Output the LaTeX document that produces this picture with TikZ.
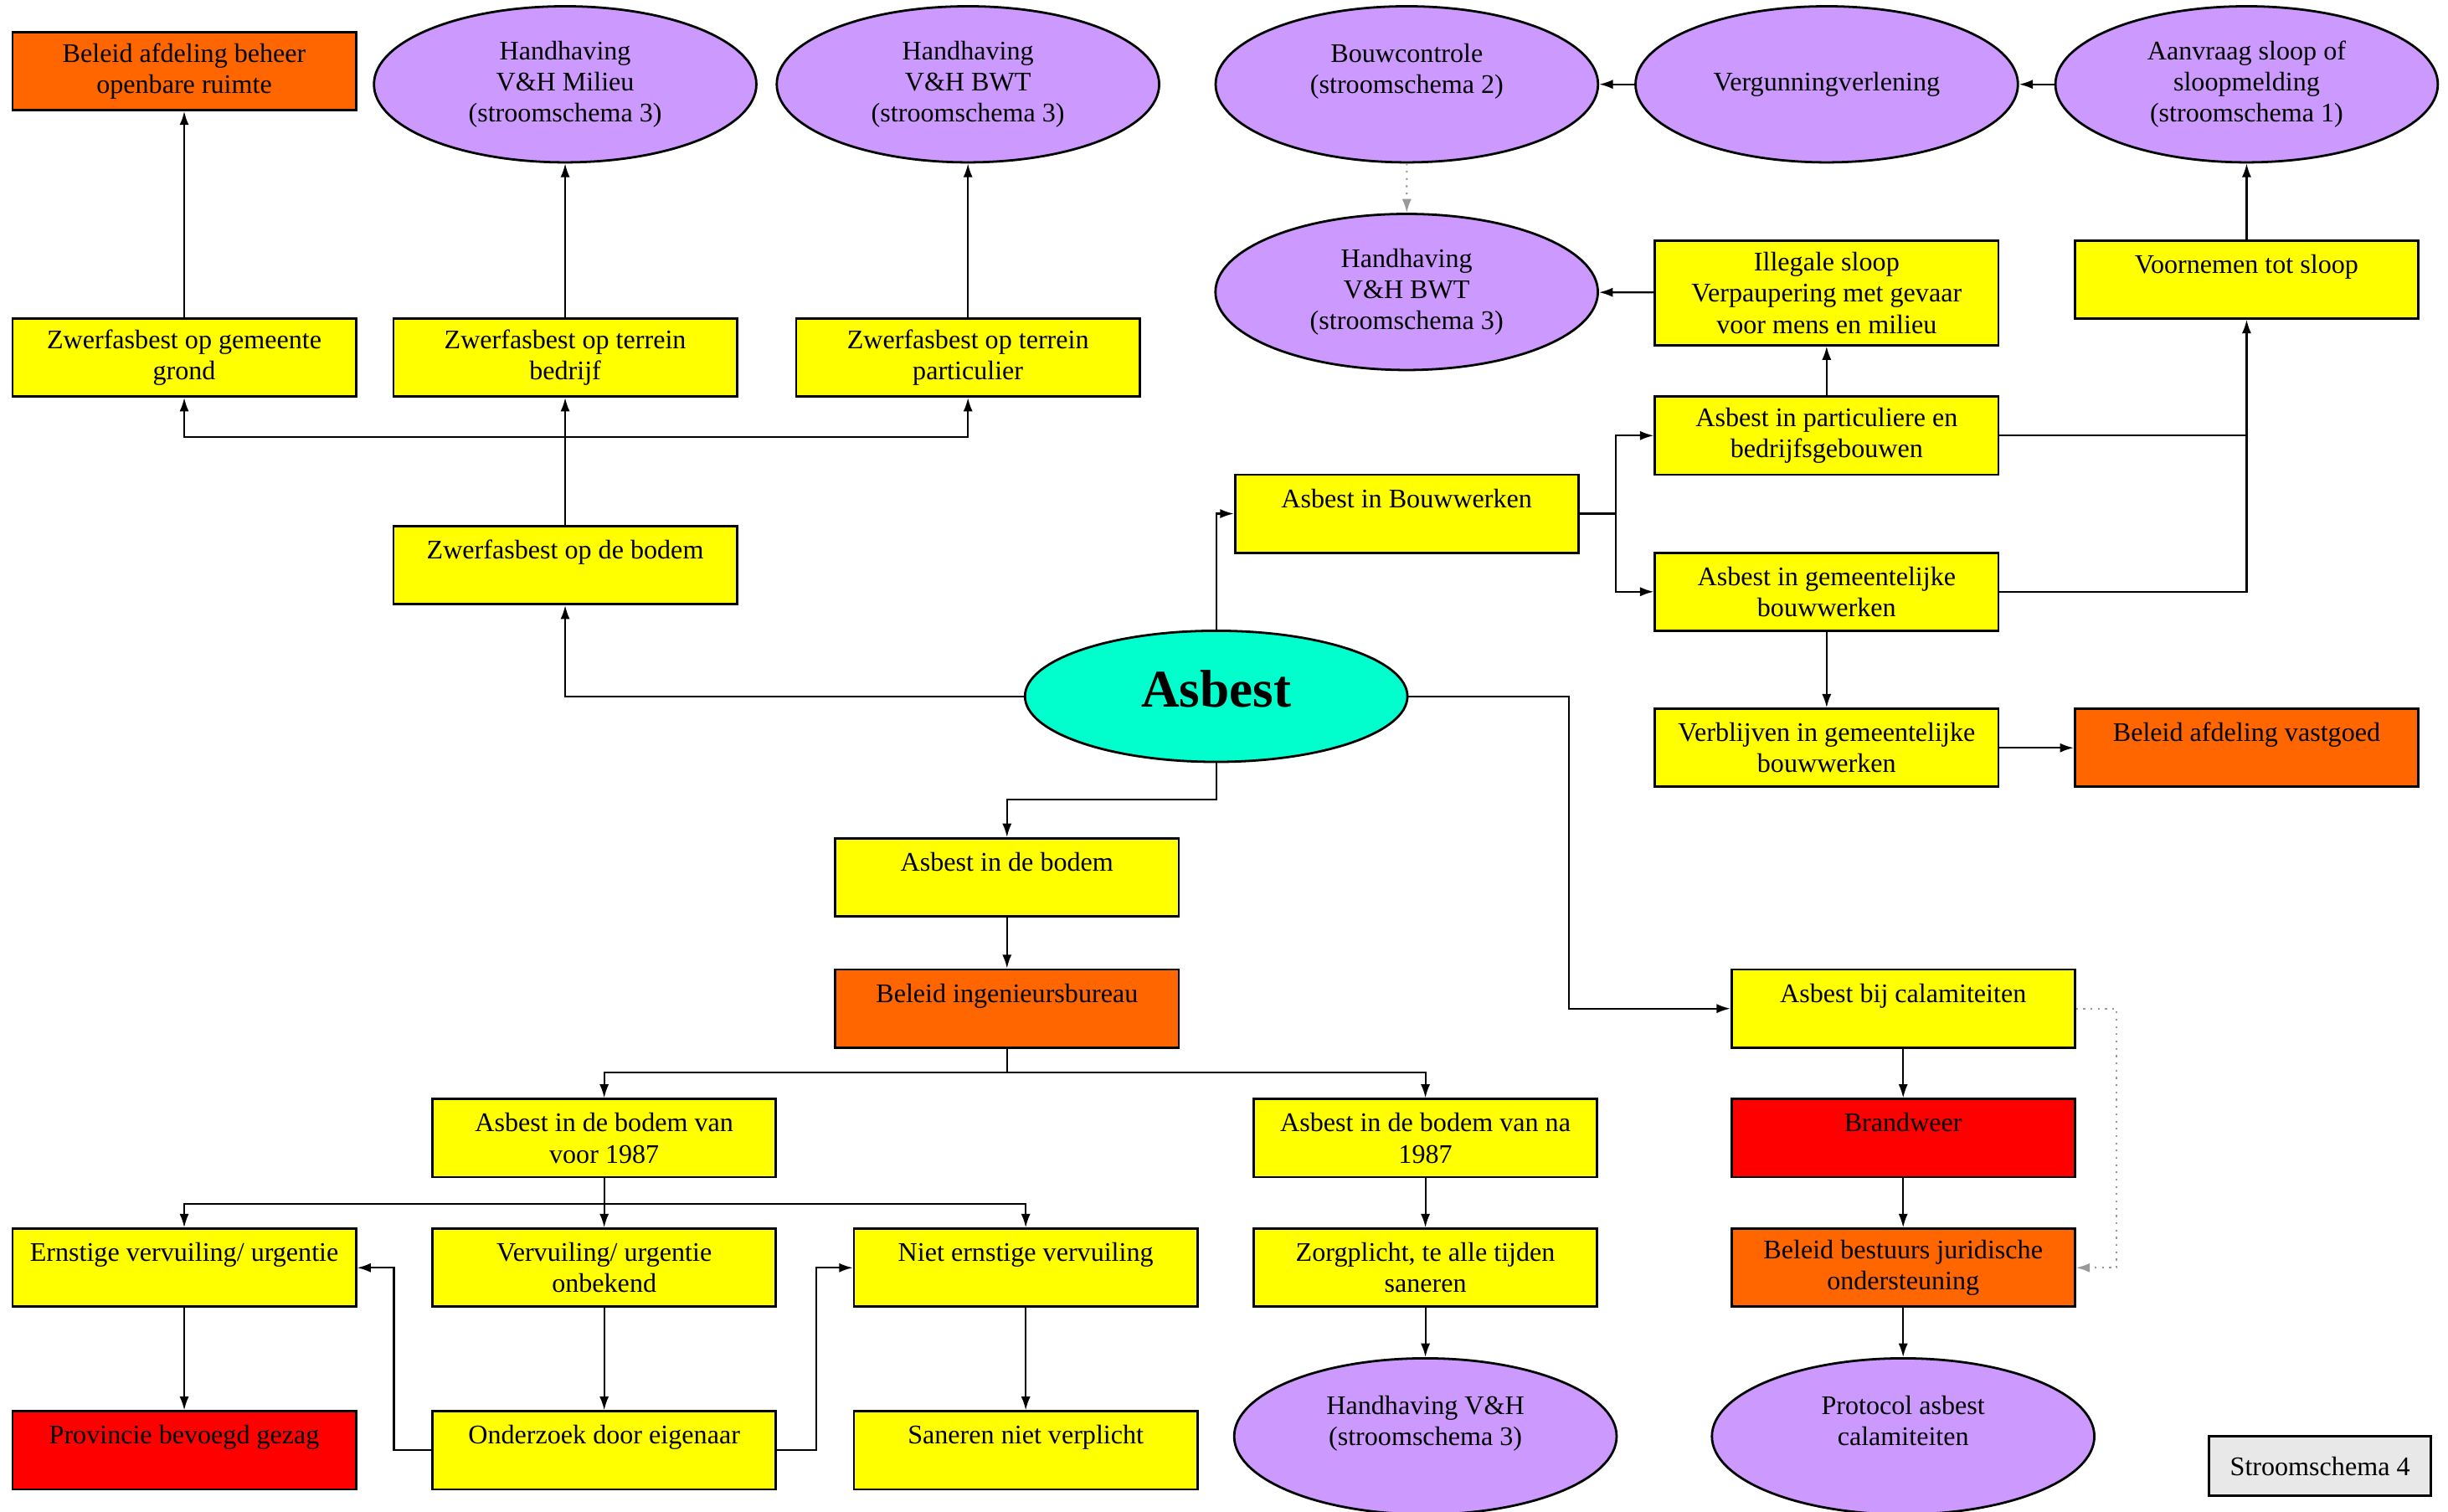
\documentclass[tikz,border=0pt]{standalone}
\usepackage{fontspec}
\setmainfont{Liberation Serif}
\usepackage{tikz}
\usetikzlibrary{positioning, arrows.meta, shapes.geometric}
\definecolor{geel}{HTML}{FFFF00}
\definecolor{oranje}{HTML}{FF6600}
\definecolor{rood}{HTML}{FF0000}
\definecolor{paars}{HTML}{CC99FF}
\definecolor{turkoois}{HTML}{00FFCC}
\definecolor{grijs}{HTML}{999999}
\definecolor{lichtgrijs}{HTML}{E8E8E8}
\tikzset{
    blok/.style={
           rectangle,
           draw=black, line width=0.85pt,
           minimum width=4.4cm,
           minimum height=1cm,
           inner sep=2pt,
           align=center,
           font=\fontsize{9.8}{11.4}\selectfont,
           },
    geelblok/.style={blok, fill=geel},
    oranjeblok/.style={blok, fill=oranje},
    roodblok/.style={blok, fill=rood},
    ovaal/.style={
           ellipse,
           draw=black, line width=0.85pt,
           fill=paars,
           minimum width=4.9cm,
           minimum height=2cm,
           inner sep=0pt,
           align=center,
           font=\fontsize{9.8}{11.4}\selectfont,
           },
    pijl/.style={->, line width=0.65pt},
    lijn/.style={line width=0.65pt},
    stippel/.style={->, grijs, dotted, line width=0.65pt},
}

\begin{document}
\begin{tikzpicture}[>={Latex[length=5pt, width=3.4pt]}, x=0.02cm, y=-0.02cm, node distance=5.38cm]
  \useasboundingbox (0,0) rectangle (1568,968);

  % bovenste rij
  \node[oranjeblok] (beheer)   at (118,45.5) {Beleid afdeling beheer\\openbare ruimte};
  \node[ovaal]      (milieu)   at (362,54)   {Handhaving\\V\&H Milieu\\(stroomschema 3)};
  \node[ovaal]      (bwtA)     at (620,54)   {Handhaving\\V\&H BWT\\(stroomschema 3)};
  \node[ovaal]      (aanvraag) at (1439,54)  {Aanvraag sloop of\\sloopmelding\\(stroomschema 1)};
  \node[ovaal, left of=aanvraag] (verg)     {Vergunningverlening};
  \node[ovaal, left of=verg]     (bouwctrl) {Bouwcontrole\\(stroomschema 2)\\\mbox{}};

  \node[ovaal]                         (bwtB)      at (901,187)    {Handhaving\\V\&H BWT\\(stroomschema 3)};
  \node[geelblok, minimum height=1.34cm] (illegaal) at (1170,187.5) {Illegale sloop\\Verpaupering met gevaar\\voor mens en milieu};
  \node[geelblok]                      (voornemen) at (1439,179)    {Voornemen tot sloop\\\mbox{}};

  % zwerfasbest
  \node[geelblok] (zgem)   at (118,229) {Zwerfasbest op gemeente\\grond};
  \node[geelblok] (zbed)   at (362,229) {Zwerfasbest op terrein\\bedrijf};
  \node[geelblok] (zpart)  at (620,229) {Zwerfasbest op terrein\\particulier};
  \node[geelblok] (zbodem) at (362,362) {Zwerfasbest op de bodem\\\mbox{}};

  % midden
  \node[ellipse, draw=black, line width=0.85pt, fill=turkoois, minimum width=4.9cm, minimum height=1.68cm,
        text depth=0.2cm, font=\fontsize{19.3}{22}\selectfont\bfseries] (asbest) at (779,446) {Asbest};

  % bouwwerken
  \node[geelblok]   (bouw)     at (901,329)  {Asbest in Bouwwerken\\\mbox{}};
  \node[geelblok]   (part)     at (1170,279) {Asbest in particuliere en\\bedrijfsgebouwen};
  \node[geelblok]   (gem)      at (1170,379) {Asbest in gemeentelijke\\bouwwerken};
  \node[geelblok]   (verblijf) at (1170,479) {Verblijven in gemeentelijke\\bouwwerken};
  \node[oranjeblok] (vastgoed) at (1439,479) {Beleid afdeling vastgoed\\\mbox{}};

  % bodem
  \node[geelblok]   (bodem)     at (645,562) {Asbest in de bodem\\\mbox{}};
  \node[oranjeblok] (ingenieur) at (645,646) {Beleid ingenieursbureau\\\mbox{}};
  \node[geelblok]   (voor)      at (387,729) {Asbest in de bodem van\\voor 1987};
  \node[geelblok]   (na)        at (913,729) {Asbest in de bodem van na\\1987};
  \node[geelblok]   (ernstig)   at (118,812) {Ernstige vervuiling/ urgentie\\\mbox{}};
  \node[geelblok]   (onbekend)  at (387,812) {Vervuiling/ urgentie\\onbekend};
  \node[geelblok]   (niet)      at (657,812) {Niet ernstige vervuiling\\\mbox{}};
  \node[roodblok]   (provincie) at (118,929) {Provincie bevoegd gezag\\\mbox{}};
  \node[geelblok]   (onderzoek) at (387,929) {Onderzoek door eigenaar\\\mbox{}};
  \node[geelblok]   (saneren)   at (657,929) {Saneren niet verplicht\\\mbox{}};
  \node[geelblok]   (zorg)      at (913,812) {Zorgplicht, te alle tijden\\saneren};
  \node[ovaal]      (hvh)       at (913,920) {Handhaving V\&H\\(stroomschema 3)\\\mbox{}};

  % calamiteiten
  \node[geelblok]   (cal)       at (1219,646) {Asbest bij calamiteiten\\\mbox{}};
  \node[roodblok]   (brandweer) at (1219,729) {Brandweer\\\mbox{}};
  \node[oranjeblok] (jurid)     at (1219,812) {Beleid bestuurs juridische\\ondersteuning};
  \node[ovaal]      (protocol)  at (1219,920) {Protocol asbest\\calamiteiten\\\mbox{}};

  \node[blok, fill=lichtgrijs, minimum width=2.84cm, minimum height=0.76cm] (stroom) at (1486,939) {Stroomschema 4};

  % verbindingen boven
  \draw[pijl] (zgem) -- (beheer);
  \draw[pijl] (zbed) -- (milieu);
  \draw[pijl] (zpart) -- (bwtA);
  \draw[pijl] (aanvraag) -- (verg);
  \draw[pijl] (verg) -- (bouwctrl);
  \draw[stippel] (bouwctrl) -- (bwtB);
  \draw[pijl] (illegaal) -- (bwtB);
  \draw[pijl] (voornemen) -- (aanvraag);

  \coordinate (zknik) at (362,280);
  \draw[lijn] (zbodem) -- (zknik);
  \draw[pijl] (zknik) -| (zgem);
  \draw[pijl] (zknik) -- (zbed);
  \draw[pijl] (zknik) -| (zpart);
  \draw[pijl] (asbest) -| (zbodem);

  % verbindingen bouwwerken
  \draw[pijl] (asbest) |- (bouw);
  \coordinate (bknik) at (1035,329);
  \draw[lijn] (bouw) -- (bknik);
  \draw[pijl] (bknik) |- (part);
  \draw[pijl] (bknik) |- (gem);
  \draw[pijl] (part) -- (illegaal);
  \coordinate (pknik) at (1439,279);
  \draw[lijn] (part) -- (pknik);
  \draw[pijl] (gem) -| (voornemen);
  \draw[pijl] (gem) -- (verblijf);
  \draw[pijl] (verblijf) -- (vastgoed);

  % verbindingen bodem
  \coordinate (aknik) at (779,512);
  \draw[pijl] (asbest) -- (aknik) -| (bodem);
  \draw[pijl] (bodem) -- (ingenieur);
  \coordinate (iknik) at (645,687);
  \draw[lijn] (ingenieur) -- (iknik);
  \draw[pijl] (iknik) -| (voor);
  \draw[pijl] (iknik) -| (na);
  \coordinate (vknik) at (387,771);
  \draw[lijn] (voor) -- (vknik);
  \draw[pijl] (vknik) -| (ernstig);
  \draw[pijl] (vknik) -- (onbekend);
  \draw[pijl] (vknik) -| (niet);
  \draw[pijl] (ernstig) -- (provincie);
  \draw[pijl] (onbekend) -- (onderzoek);
  \draw[pijl] (niet) -- (saneren);
  \draw[pijl] (onderzoek.west) -- ++(-24,0) |- (ernstig);
  \draw[pijl] (onderzoek.east) -- ++(25,0) |- (niet);
  \draw[pijl] (na) -- (zorg);
  \draw[pijl] (zorg) -- (hvh);

  % verbindingen calamiteiten
  \coordinate (cknik) at (1005,446);
  \draw[pijl] (asbest) -- (cknik) |- (cal);
  \draw[pijl] (cal) -- (brandweer);
  \draw[pijl] (brandweer) -- (jurid);
  \draw[pijl] (jurid) -- (protocol);
  \draw[stippel] (cal.east) -- ++(26,0) |- (jurid);

\end{tikzpicture}
\end{document}
